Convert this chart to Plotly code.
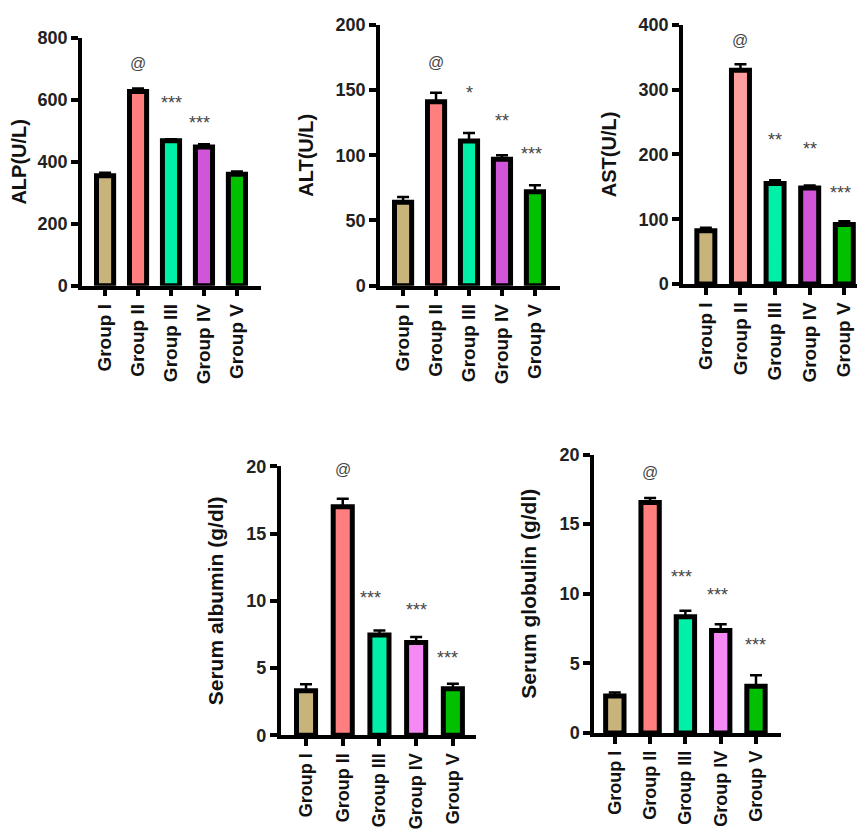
import plotly.graph_objects as go

W, H = 865, 830

groups = ["Group I", "Group II", "Group III", "Group IV", "Group V"]

# Means and upper error (SEM) values
alp_mean = [355, 627, 468, 448, 360]
alp_err = [10, 10, 5, 9, 9]
alt_mean = [64, 141, 111, 97, 72]
alt_err = [4, 7, 6, 3, 5]
ast_mean = [82, 330, 155, 148, 92]
ast_err = [5, 9, 5, 4, 5]
alb_mean = [3.3, 17.0, 7.45, 6.9, 3.45]
alb_err = [0.5, 0.6, 0.35, 0.4, 0.38]
glob_mean = [2.65, 16.55, 8.35, 7.35, 3.35]
glob_err = [0.25, 0.32, 0.42, 0.45, 0.8]

# significance labels and their heights
alp_sig = ["", "@", "***", "***", ""]
alp_sig_y = [0, 716, 590, 525, 0]
alt_sig = ["", "@", "*", "**", "***"]
alt_sig_y = [0, 171, 148, 126, 101]
ast_sig = ["", "@", "**", "**", "***"]
ast_sig_y = [0, 376, 223, 208, 141]
alb_sig = ["", "@", "***", "***", "***"]
alb_sig_y = [0, 19.8, 10.2, 9.3, 5.75]
glob_sig = ["", "@", "***", "***", "***"]
glob_sig_y = [0, 18.7, 11.2, 9.93, 6.34]

colors_top = ["#C8B47A", "#FF7F7F", "#00F0A8", "#D155D9", "#00C000"]
colors_ast = ["#C8B47A", "#FF9E9E", "#00F0A8", "#D155D9", "#00C000"]
colors_bot = ["#C8B47A", "#FF7F7F", "#00F0A8", "#F58AF5", "#00C000"]


def fy(t):
    # screen offset compensation (page top offset / vertical scale)
    return max((t - 17) / 0.977, 0)


panels = [
    dict(mean=alp_mean, err=alp_err, sig=alp_sig, sig_y=alp_sig_y, colors=colors_top,
         title="ALP(U/L)", yr=[0, 800], dt=200, px=(74, 253), py=(fy(37), fy(285)),
         xr=[-0.7, 4.73], sigdx=[0, 0, 0, -0.15, 0], tfs=20, cfs=19, so=16),
    dict(mean=alt_mean, err=alt_err, sig=alt_sig, sig_y=alt_sig_y, colors=colors_top,
         title="ALT(U/L)", yr=[0, 200], dt=50, px=(372, 552), py=(7, fy(285)),
         xr=[-0.7, 4.76], sigdx=[0, 0, 0, 0, -0.1], tfs=20, cfs=19, so=18),
    dict(mean=ast_mean, err=ast_err, sig=ast_sig, sig_y=ast_sig_y, colors=colors_ast,
         title="AST(U/L)", yr=[0, 400], dt=100, px=(675, 864), py=(7, fy(283.3)),
         xr=[-0.66, 4.8], sigdx=[0, 0, 0, 0, -0.12], tfs=20, cfs=19, so=18),
    dict(mean=alb_mean, err=alb_err, sig=alb_sig, sig_y=alb_sig_y, colors=colors_bot,
         title="Serum albumin (g/dl)", yr=[0, 20], dt=5, px=(272.7, 468),
         py=(fy(466), fy(735)), xr=[-0.69, 4.63], sigdx=[0, 0, -0.25, 0, -0.15],
         tfs=21, cfs=18, so=18),
    dict(mean=glob_mean, err=glob_err, sig=glob_sig, sig_y=glob_sig_y, colors=colors_bot,
         title="Serum globulin (g/dl)", yr=[0, 20], dt=5, px=(586, 772.7),
         py=(fy(454), fy(732.7)), xr=[-0.59, 4.7], sigdx=[0, 0, -0.1, -0.1, 0],
         tfs=21, cfs=18, so=18),
]

fig = go.Figure()
FONT = "Liberation Sans, Arial, sans-serif"
xs = list(range(len(groups)))

for i, p in enumerate(panels):
    n = "" if i == 0 else str(i + 1)
    fig.add_trace(go.Bar(
        x=xs, y=p["mean"], width=0.52,
        marker=dict(color=p["colors"], line=dict(color="black", width=5)),
        error_y=dict(type="data", symmetric=False, array=p["err"],
                     arrayminus=[0] * 5, color="black", thickness=2.5, width=6),
        xaxis="x" + n, yaxis="y" + n, showlegend=False,
    ))
    x0, x1 = p["px"]
    y0, y1 = p["py"]
    axis_common = dict(showline=True, linecolor="black", linewidth=3.5, ticks="outside",
                       ticklen=7, tickwidth=3.5, tickcolor="black", showgrid=False,
                       zeroline=False, fixedrange=True)
    fig.update_layout(**{
        "xaxis" + n: dict(domain=[x0 / W, x1 / W], range=p["xr"], anchor="y" + n,
                          tickmode="array", tickvals=xs, ticktext=groups, tickangle=-90,
                          tickfont=dict(family=FONT, size=p["cfs"], color="#111",
                                        weight="bold"),
                          **axis_common),
        "yaxis" + n: dict(domain=[1 - y1 / H, 1 - y0 / H], range=p["yr"], anchor="x" + n,
                          dtick=p["dt"],
                          tickfont=dict(family=FONT, size=18, color="#222", weight="bold"),
                          title=dict(text=p["title"], standoff=p["so"],
                                     font=dict(family=FONT, size=p["tfs"], color="#111",
                                               weight="bold")),
                          **axis_common),
    })
    for j, (s, sy) in enumerate(zip(p["sig"], p["sig_y"])):
        if not s:
            continue
        fig.add_annotation(x=xs[j] + p["sigdx"][j], y=sy, text=s, showarrow=False,
                           xref="x" + n, yref="y" + n, yanchor="middle",
                           font=dict(family=FONT, size=16 if s == "@" else 18,
                                     color="#444"))

fig.update_layout(width=W, height=H, margin=dict(l=0, r=0, t=0, b=0),
                  paper_bgcolor="white", plot_bgcolor="white",
                  font=dict(family=FONT, color="#111"))
fig.write_html("out.html")
